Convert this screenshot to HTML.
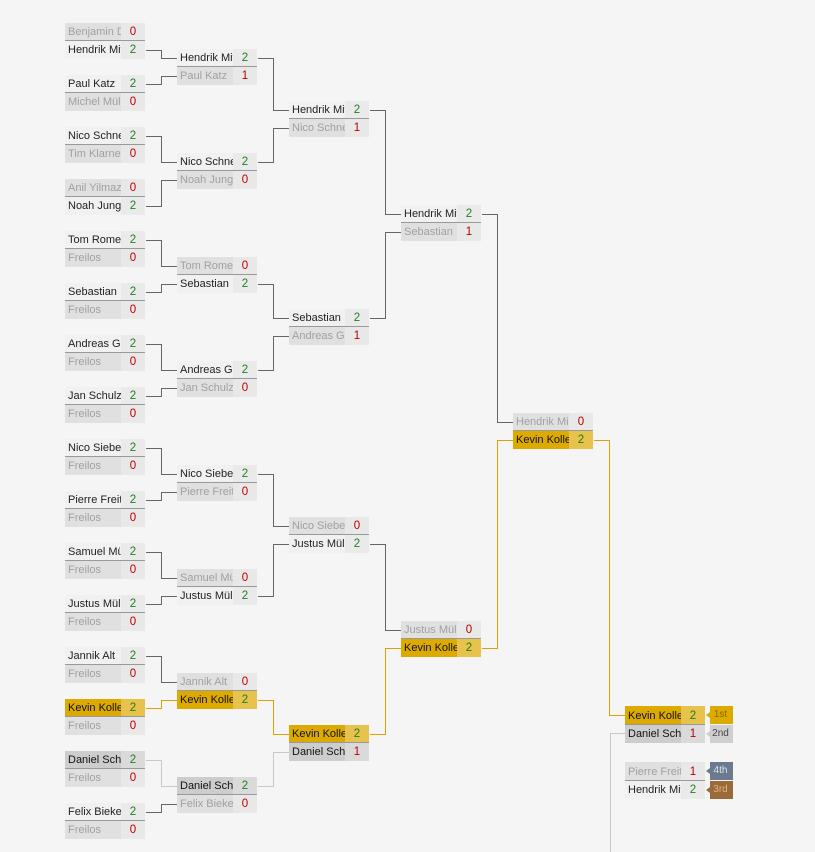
<!DOCTYPE html>
<html><head><meta charset="utf-8"><style>
body{margin:0;background:#f5f5f5;width:815px;height:852px;position:relative;overflow:hidden;font-family:"Liberation Sans",Arial,sans-serif;font-size:11px}
.r{position:absolute;width:80px;height:18px;line-height:19px}
.t{height:17px;line-height:19px;border-bottom:1px solid #999}
.n{position:absolute;left:0;top:0;bottom:0;width:53px;padding-left:3px;overflow:hidden;white-space:nowrap}
.s{position:absolute;left:56px;top:0;bottom:0;width:24px;text-align:center;font-size:11.5px}
.w .n{background:#f1f1f1;color:#222}.w .s{background:#eaeaea}
.l .n{background:#e0e0e0;color:#a0a0a0}.l .s{background:#e8e8e8}
.g .n{background:#dcaa00;color:#111}.g .s{background:#e7c24c}
.d .n{background:#cdcdcd;color:#111}.d .s{background:#dadada}
.s.v{color:#1f7f1f}.s.x{color:#b80000}
.b{position:absolute;left:706px;width:27px;height:18px;line-height:18px;font-size:10px;text-align:center;padding-left:2px;box-sizing:border-box;clip-path:polygon(4px 0,100% 0,100% 100%,4px 100%,4px 12px,0 9px,4px 6px)}
svg{position:absolute;left:0;top:0}
</style></head><body>
<svg width="815" height="852" shape-rendering="crispEdges" fill="none" stroke-width="1">
<g stroke="#666">
<path d="M146 50.5H161.5V58.5H177"/><path d="M146 84.5H161.5V76.5H177"/>
<path d="M146 136.5H161.5V162.5H177"/><path d="M146 206.5H161.5V180.5H177"/>
<path d="M146 240.5H161.5V266.5H177"/><path d="M146 292.5H161.5V284.5H177"/>
<path d="M146 344.5H161.5V370.5H177"/><path d="M146 396.5H161.5V388.5H177"/>
<path d="M146 448.5H161.5V474.5H177"/><path d="M146 500.5H161.5V492.5H177"/>
<path d="M146 552.5H161.5V578.5H177"/><path d="M146 604.5H161.5V596.5H177"/>
<path d="M146 656.5H161.5V682.5H177"/><path d="M146 812.5H161.5V804.5H177"/>
<path d="M258 58.5H273.5V110.5H289"/><path d="M258 162.5H273.5V128.5H289"/>
<path d="M258 284.5H273.5V318.5H289"/><path d="M258 370.5H273.5V336.5H289"/>
<path d="M258 474.5H273.5V526.5H289"/><path d="M258 596.5H273.5V544.5H289"/>
<path d="M370 110.5H385.5V214.5H401"/><path d="M370 318.5H385.5V232.5H401"/>
<path d="M370 544.5H385.5V630.5H401"/>
<path d="M482 214.5H497.5V422.5H513"/>
</g>
<g stroke="#d4a500">
<path d="M146 708.5H161.5V700.5H177"/><path d="M258 700.5H273.5V734.5H289"/>
<path d="M370 734.5H385.5V648.5H401"/><path d="M482 648.5H497.5V440.5H513"/>
<path d="M594 440.5H609.5V715.5H625"/>
</g>
<g stroke="#c8c8c8">
<path d="M146 760.5H161.5V786.5H177"/><path d="M258 786.5H273.5V752.5H289"/>
<path d="M625 733.5H610.5V852"/>
</g>
</svg>

<div class="r t l" style="left:65px;top:23px"><span class="n">Benjamin Dietrich</span><span class="s x">0</span></div>
<div class="r w" style="left:65px;top:41px"><span class="n">Hendrik Mittel</span><span class="s v">2</span></div>
<div class="r t w" style="left:65px;top:75px"><span class="n">Paul Katz</span><span class="s v">2</span></div>
<div class="r l" style="left:65px;top:93px"><span class="n">Michel Müller</span><span class="s x">0</span></div>
<div class="r t w" style="left:65px;top:127px"><span class="n">Nico Schneider</span><span class="s v">2</span></div>
<div class="r l" style="left:65px;top:145px"><span class="n">Tim Klarner</span><span class="s x">0</span></div>
<div class="r t l" style="left:65px;top:179px"><span class="n">Anil Yilmaz</span><span class="s x">0</span></div>
<div class="r w" style="left:65px;top:197px"><span class="n">Noah Jung</span><span class="s v">2</span></div>
<div class="r t w" style="left:65px;top:231px"><span class="n">Tom Romer</span><span class="s v">2</span></div>
<div class="r l" style="left:65px;top:249px"><span class="n">Freilos</span><span class="s x">0</span></div>
<div class="r t w" style="left:65px;top:283px"><span class="n">Sebastian</span><span class="s v">2</span></div>
<div class="r l" style="left:65px;top:301px"><span class="n">Freilos</span><span class="s x">0</span></div>
<div class="r t w" style="left:65px;top:335px"><span class="n">Andreas Groß</span><span class="s v">2</span></div>
<div class="r l" style="left:65px;top:353px"><span class="n">Freilos</span><span class="s x">0</span></div>
<div class="r t w" style="left:65px;top:387px"><span class="n">Jan Schulz</span><span class="s v">2</span></div>
<div class="r l" style="left:65px;top:405px"><span class="n">Freilos</span><span class="s x">0</span></div>
<div class="r t w" style="left:65px;top:439px"><span class="n">Nico Siebert</span><span class="s v">2</span></div>
<div class="r l" style="left:65px;top:457px"><span class="n">Freilos</span><span class="s x">0</span></div>
<div class="r t w" style="left:65px;top:491px"><span class="n">Pierre Freitag</span><span class="s v">2</span></div>
<div class="r l" style="left:65px;top:509px"><span class="n">Freilos</span><span class="s x">0</span></div>
<div class="r t w" style="left:65px;top:543px"><span class="n">Samuel Müller</span><span class="s v">2</span></div>
<div class="r l" style="left:65px;top:561px"><span class="n">Freilos</span><span class="s x">0</span></div>
<div class="r t w" style="left:65px;top:595px"><span class="n">Justus Müller</span><span class="s v">2</span></div>
<div class="r l" style="left:65px;top:613px"><span class="n">Freilos</span><span class="s x">0</span></div>
<div class="r t w" style="left:65px;top:647px"><span class="n">Jannik Alt</span><span class="s v">2</span></div>
<div class="r l" style="left:65px;top:665px"><span class="n">Freilos</span><span class="s x">0</span></div>
<div class="r t g" style="left:65px;top:699px"><span class="n">Kevin Koller</span><span class="s v">2</span></div>
<div class="r l" style="left:65px;top:717px"><span class="n">Freilos</span><span class="s x">0</span></div>
<div class="r t d" style="left:65px;top:751px"><span class="n">Daniel Schmidt</span><span class="s v">2</span></div>
<div class="r l" style="left:65px;top:769px"><span class="n">Freilos</span><span class="s x">0</span></div>
<div class="r t w" style="left:65px;top:803px"><span class="n">Felix Bieker</span><span class="s v">2</span></div>
<div class="r l" style="left:65px;top:821px"><span class="n">Freilos</span><span class="s x">0</span></div>

<div class="r t w" style="left:177px;top:49px"><span class="n">Hendrik Mittel</span><span class="s v">2</span></div>
<div class="r l" style="left:177px;top:67px"><span class="n">Paul Katz</span><span class="s x">1</span></div>
<div class="r t w" style="left:177px;top:153px"><span class="n">Nico Schneider</span><span class="s v">2</span></div>
<div class="r l" style="left:177px;top:171px"><span class="n">Noah Jung</span><span class="s x">0</span></div>
<div class="r t l" style="left:177px;top:257px"><span class="n">Tom Romer</span><span class="s x">0</span></div>
<div class="r w" style="left:177px;top:275px"><span class="n">Sebastian</span><span class="s v">2</span></div>
<div class="r t w" style="left:177px;top:361px"><span class="n">Andreas Groß</span><span class="s v">2</span></div>
<div class="r l" style="left:177px;top:379px"><span class="n">Jan Schulz</span><span class="s x">0</span></div>
<div class="r t w" style="left:177px;top:465px"><span class="n">Nico Siebert</span><span class="s v">2</span></div>
<div class="r l" style="left:177px;top:483px"><span class="n">Pierre Freitag</span><span class="s x">0</span></div>
<div class="r t l" style="left:177px;top:569px"><span class="n">Samuel Müller</span><span class="s x">0</span></div>
<div class="r w" style="left:177px;top:587px"><span class="n">Justus Müller</span><span class="s v">2</span></div>
<div class="r t l" style="left:177px;top:673px"><span class="n">Jannik Alt</span><span class="s x">0</span></div>
<div class="r g" style="left:177px;top:691px"><span class="n">Kevin Koller</span><span class="s v">2</span></div>
<div class="r t d" style="left:177px;top:777px"><span class="n">Daniel Schmidt</span><span class="s v">2</span></div>
<div class="r l" style="left:177px;top:795px"><span class="n">Felix Bieker</span><span class="s x">0</span></div>

<div class="r t w" style="left:289px;top:101px"><span class="n">Hendrik Mittel</span><span class="s v">2</span></div>
<div class="r l" style="left:289px;top:119px"><span class="n">Nico Schneider</span><span class="s x">1</span></div>
<div class="r t w" style="left:289px;top:309px"><span class="n">Sebastian</span><span class="s v">2</span></div>
<div class="r l" style="left:289px;top:327px"><span class="n">Andreas Groß</span><span class="s x">1</span></div>
<div class="r t l" style="left:289px;top:517px"><span class="n">Nico Siebert</span><span class="s x">0</span></div>
<div class="r w" style="left:289px;top:535px"><span class="n">Justus Müller</span><span class="s v">2</span></div>
<div class="r t g" style="left:289px;top:725px"><span class="n">Kevin Koller</span><span class="s v">2</span></div>
<div class="r d" style="left:289px;top:743px"><span class="n">Daniel Schmidt</span><span class="s x">1</span></div>

<div class="r t w" style="left:401px;top:205px"><span class="n">Hendrik Mittel</span><span class="s v">2</span></div>
<div class="r l" style="left:401px;top:223px"><span class="n">Sebastian</span><span class="s x">1</span></div>
<div class="r t l" style="left:401px;top:621px"><span class="n">Justus Müller</span><span class="s x">0</span></div>
<div class="r g" style="left:401px;top:639px"><span class="n">Kevin Koller</span><span class="s v">2</span></div>

<div class="r t l" style="left:513px;top:413px"><span class="n">Hendrik Mittel</span><span class="s x">0</span></div>
<div class="r g" style="left:513px;top:431px"><span class="n">Kevin Koller</span><span class="s v">2</span></div>

<div class="r t g" style="left:625px;top:706px;height:18px;line-height:20px"><span class="n">Kevin Koller</span><span class="s v">2</span></div>
<div class="r d" style="left:625px;top:725px"><span class="n">Daniel Schmidt</span><span class="s x">1</span></div>
<div class="b" style="top:706px;background:#dcaa00;color:#8a6a00">1st</div>
<div class="b" style="top:725px;background:#cfcfcf;color:#444">2nd</div>

<div class="r t l" style="left:625px;top:762px;height:18px;line-height:20px"><span class="n">Pierre Freitag</span><span class="s x">1</span></div>
<div class="r w" style="left:625px;top:781px"><span class="n">Hendrik Mittel</span><span class="s v">2</span></div>
<div class="b" style="top:762px;background:#6b7a8f;color:#dde3ec">4th</div>
<div class="b" style="top:781px;background:#9a6a3a;color:#e4b27c">3rd</div>
</body></html>
